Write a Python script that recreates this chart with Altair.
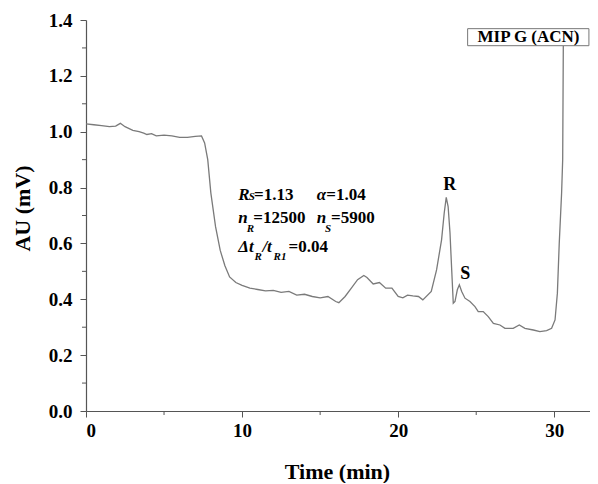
import altair as alt
import pandas as pd

# ---- chromatogram trace ----
time = [0.0, 0.5, 1.0, 1.5, 1.9, 2.2, 2.5, 3.0, 3.4, 3.7, 3.9, 4.2, 4.5, 5.0, 5.5, 6.0,
        6.5, 7.0, 7.4, 7.6, 7.8, 8.0, 8.3, 8.6, 8.9, 9.2, 9.6, 10.0, 10.5, 11.0, 11.5,
        12.0, 12.5, 13.0, 13.5, 14.0, 14.5, 15.0, 15.5, 16.0, 16.2, 16.6, 17.0, 17.4,
        17.8, 18.0, 18.4, 18.8, 19.2, 19.6, 20.0, 20.3, 20.6, 20.94, 21.3, 21.58, 22.12,
        22.46, 22.78, 22.95, 23.08, 23.2, 23.32, 23.43, 23.53, 23.64, 23.79, 23.92, 24.07,
        24.28, 24.6, 24.92, 25.13, 25.45, 25.77, 26.1, 26.52, 26.84, 27.37, 27.76, 28.12,
        28.66, 29.08, 29.51, 29.83, 30.05, 30.2, 30.32, 30.47, 30.54, 30.58]
signal = [1.028, 1.025, 1.022, 1.018, 1.020, 1.030, 1.018, 1.005, 1.000, 0.995, 0.990,
          0.993, 0.985, 0.988, 0.985, 0.980, 0.980, 0.983, 0.985, 0.960, 0.900, 0.780,
          0.660, 0.575, 0.520, 0.480, 0.460, 0.450, 0.440, 0.435, 0.430, 0.432, 0.425,
          0.428, 0.415, 0.418, 0.410, 0.405, 0.410, 0.392, 0.388, 0.410, 0.440, 0.470,
          0.485, 0.478, 0.455, 0.460, 0.440, 0.440, 0.410, 0.405, 0.415, 0.412, 0.410,
          0.398, 0.428, 0.505, 0.613, 0.709, 0.765, 0.732, 0.638, 0.505, 0.386, 0.392,
          0.434, 0.452, 0.428, 0.404, 0.392, 0.374, 0.356, 0.356, 0.338, 0.314, 0.308,
          0.296, 0.296, 0.308, 0.296, 0.290, 0.284, 0.288, 0.296, 0.326, 0.422, 0.601,
          0.780, 0.900, 1.308]

peak_names = ["R", "S"]
peak_time = [23.3, 24.3]
peak_level = [0.792, 0.473]

x_ticks = [0, 10, 20, 30]
x_minor = [5, 15, 25]
y_ticks = [0.0, 0.2, 0.4, 0.6, 0.8, 1.0, 1.2, 1.4]
y_minor = [0.1, 0.3, 0.5, 0.7, 0.9, 1.1, 1.3]

# annotation pieces: (time, level, text, kind)
notes = [
    (9.76, 0.756, "R", "var"), (10.42, 0.756, "S", "sub"), (10.76, 0.756, "=1.13", "num"),
    (14.78, 0.756, "\u03b1", "var"), (15.40, 0.756, "=1.04", "num"),
    (9.76, 0.673, "n", "var"), (10.30, 0.640, "R", "sub"), (10.72, 0.673, "=12500", "num"),
    (14.78, 0.673, "n", "var"), (15.32, 0.640, "S", "sub"), (15.70, 0.673, "=5900", "num"),
    (9.76, 0.571, "\u0394t", "var"), (10.80, 0.541, "R", "sub"), (11.30, 0.571, "/t", "var"),
    (12.02, 0.541, "R1", "sub"), (12.98, 0.571, "=0.04", "num"),
]
legend_label = "MIP G (ACN)"

FONT = "Liberation Serif, Times New Roman, Times, serif"
XMAX = 32.29

df = pd.DataFrame({"t": time, "v": signal})
xs = alt.Scale(domain=[0, XMAX], nice=False)
ys = alt.Scale(domain=[0, 1.4], nice=False)

line = alt.Chart(df).mark_line(color="#7a7a7a", strokeWidth=1.3).encode(
    x=alt.X("t:Q", scale=xs,
            axis=alt.Axis(values=x_ticks, title="Time (min)", format="d",
                          titleX=251, titleY=67, titleBaseline="alphabetic",
                          titleAlign="center", labelPadding=4)),
    y=alt.Y("v:Q", scale=ys,
            axis=alt.Axis(values=y_ticks, title="AU (mV)", format=".1f",
                          titleX=-57, titleY=188, titleAngle=270,
                          titleBaseline="alphabetic", titleAlign="center",
                          labelPadding=8)),
)

xminor = alt.Chart(pd.DataFrame({"t": x_minor})).mark_rule(color="#555", strokeWidth=1).encode(
    x=alt.X("t:Q", scale=xs), y=alt.value(391), y2=alt.value(395))
yminor = alt.Chart(pd.DataFrame({"v": y_minor})).mark_rule(color="#555", strokeWidth=1).encode(
    y=alt.Y("v:Q", scale=ys), x=alt.value(0), x2=alt.value(-4))

peaks = alt.Chart(pd.DataFrame({"t": peak_time, "v": peak_level, "s": peak_names})).mark_text(
    font=FONT, fontWeight="bold", fontSize=18, align="center", baseline="alphabetic", color="black"
).encode(x=alt.X("t:Q", scale=xs), y=alt.Y("v:Q", scale=ys), text="s:N")

ndf = pd.DataFrame(notes, columns=["t", "v", "s", "kind"])
def note_layer(kind, size, style):
    return alt.Chart(ndf[ndf.kind == kind]).mark_text(
        font=FONT, fontWeight="bold", fontStyle=style, fontSize=size, align="left",
        baseline="alphabetic", color="black"
    ).encode(x=alt.X("t:Q", scale=xs), y=alt.Y("v:Q", scale=ys), text="s:N")

n_var = note_layer("var", 17, "italic")
n_num = note_layer("num", 17, "normal")
n_sub = note_layer("sub", 11, "italic")

box = alt.Chart(pd.DataFrame({"a": [24.45], "b": [32.22], "lo": [1.308], "hi": [1.369]})).mark_rect(
    fill="white", stroke="#777", strokeWidth=1
).encode(x=alt.X("a:Q", scale=xs), x2="b:Q", y=alt.Y("lo:Q", scale=ys), y2="hi:Q")
box_text = alt.Chart(pd.DataFrame({"t": [28.35], "v": [1.338], "s": [legend_label]})).mark_text(
    font=FONT, fontWeight="bold", fontSize=17, align="center", baseline="middle", color="black"
).encode(x=alt.X("t:Q", scale=xs), y=alt.Y("v:Q", scale=ys), text="s:N")

chart = alt.layer(line, xminor, yminor, peaks, n_var, n_num, n_sub, box, box_text).properties(
    width=504, height=391,
    autosize=alt.AutoSizeParams(type="none"),
    padding={"left": 78, "top": 12, "right": 0, "bottom": 72},
).configure_view(strokeWidth=0).configure_axis(
    grid=False, domainColor="#555", tickColor="#555", tickSize=6, domainWidth=1.2,
    labelFont=FONT, labelFontSize=19, labelFontWeight="bold", labelColor="black",
    titleFont=FONT, titleFontSize=22, titleFontWeight="bold", titleColor="black",
)

chart.save("out.html", embed_options={"renderer": "svg", "actions": False})
